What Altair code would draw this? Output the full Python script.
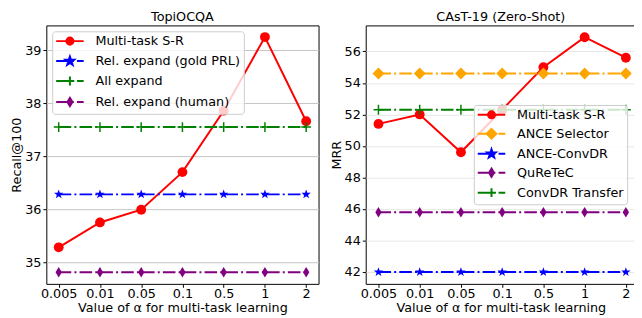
import math
import altair as alt
import pandas as pd

# ---------------- data ----------------
alphas = ["0.005", "0.01", "0.05", "0.1", "0.5", "1", "2"]

topi_names = ["Multi-task S-R", "Rel. expand (gold PRL)", "All expand", "Rel. expand (human)"]
topi_multitask = [35.28, 35.75, 35.99, 36.70, 37.86, 39.25, 37.66]
topi_gold_prl = [36.28, 36.28, 36.28, 36.28, 36.28, 36.28, 36.28]
topi_all_expand = [37.55, 37.55, 37.55, 37.55, 37.55, 37.55, 37.55]
topi_human = [34.81, 34.81, 34.81, 34.81, 34.81, 34.81, 34.81]

cast_names = ["Multi-task S-R", "ANCE Selector", "ANCE-ConvDR", "QuReTeC", "ConvDR Transfer"]
cast_multitask = [51.4, 52.0, 49.6, 52.3, 55.0, 56.9, 55.6]
cast_ance_selector = [54.6, 54.6, 54.6, 54.6, 54.6, 54.6, 54.6]
cast_ance_convdr = [42.0, 42.0, 42.0, 42.0, 42.0, 42.0, 42.0]
cast_quretec = [45.8, 45.8, 45.8, 45.8, 45.8, 45.8, 45.8]
cast_convdr_transfer = [52.3, 52.3, 52.3, 52.3, 52.3, 52.3, 52.3]

topi_ticks = [35, 36, 37, 38, 39]
cast_ticks = [42, 44, 46, 48, 50, 52, 54, 56]

# ---------------- styles ----------------
FONT = "DejaVu Sans"
RED, BLUE, GREEN, PURPLE, ORANGE = "#ff0000", "#0000ff", "#008000", "#800080", "#ffa500"
DASHDOT = [12.8, 3.2, 2, 3.2]


def fmt(v):
    return f"{v:.3f}".rstrip("0").rstrip(".")


def star_pts(r_out, r_in):
    pts = []
    for k in range(10):
        a = math.radians(-90 + 36 * k)
        r = r_out if k % 2 == 0 else r_in
        pts.append((r * math.cos(a), r * math.sin(a)))
    return pts


def poly(pts, s=1.0):
    return "M" + "L".join(f"{fmt(x * s)},{fmt(y * s)}" for x, y in pts) + "Z"


def marker_path(kind, s=1.0):
    if kind == "circle":
        r = s
        return f"M{fmt(r)},0A{fmt(r)},{fmt(r)} 0 1,1 {fmt(-r)},0A{fmt(r)},{fmt(r)} 0 1,1 {fmt(r)},0Z"
    if kind == "star":
        return poly(star_pts(1.0, 0.4), s)
    if kind == "plus":
        return f"M{fmt(-s)},0L{fmt(s)},0M0,{fmt(-s)}L0,{fmt(s)}"
    if kind == "diamond":
        return poly([(0, -1), (1, 0), (0, 1), (-1, 0)], s)
    if kind == "thin_diamond":
        return poly([(0, -1), (0.6, 0), (0, 1), (-0.6, 0)], s)
    raise ValueError(kind)


PLOT_MARK = {
    "circle": ("circle", 100, True),
    "star": (marker_path("star"), 100, True),
    "plus": (marker_path("plus"), 100, False),
    "diamond": (marker_path("diamond"), 144, True),
    "thin_diamond": (marker_path("thin_diamond"), 115, True),
}

U = 6.0
LEG_MARK_PX = {"circle": 3.6, "star": 4.6, "plus": 4.5, "diamond": 5.0, "thin_diamond": 4.2}


def glyph(kind, dashed):
    if dashed:
        segs = [(-14, -1.2), (2, 4), (7.2, 14)]
    else:
        segs = [(-14, 14)]
    line = "".join(f"M{fmt(a / U)},0L{fmt(b / U)},0" for a, b in segs)
    return line + marker_path(kind, LEG_MARK_PX[kind] / U)


def panel(title, names, series, colors, markers, dashed, ydomain, yticks, ytitle,
          grid_color, width, pad, align, lx, ly, row_pad):
    rows = []
    for n, vals in zip(names, series):
        for a, v in zip(alphas, vals):
            rows.append({"series": n, "alpha": a, "value": v})
    df = pd.DataFrame(rows)
    base = alt.Chart(df)
    x = alt.X("alpha:N", sort=alphas,
              scale=alt.Scale(type="point", padding=pad, align=align),
              axis=alt.Axis(title="Value of α for multi-task learning", labelAngle=0,
                            gridColor=grid_color, labelPadding=0, titlePadding=2))
    y = alt.Y("value:Q", scale=alt.Scale(domain=ydomain, nice=False, zero=False),
              axis=alt.Axis(values=yticks, title=ytitle, gridColor=grid_color,
                            labelPadding=2, titlePadding=1))
    layers = []
    for n, c, m, d in zip(names, colors, markers, dashed):
        sub = base.transform_filter(alt.datum.series == n)
        if d:
            ln = sub.mark_line(color=c, strokeWidth=2, strokeDash=DASHDOT)
        else:
            ln = sub.mark_line(color=c, strokeWidth=2)
        layers.append(ln.encode(x=x, y=y))
        shape, size, filled = PLOT_MARK[m]
        if filled:
            pt = sub.mark_point(shape=shape, size=size, filled=True, color=c, opacity=1,
                                strokeWidth=0)
        else:
            pt = sub.mark_point(shape=shape, size=size, filled=False, color=c, opacity=1,
                                strokeWidth=1.5)
        layers.append(pt.encode(x=x, y=y))

    glyphs = [glyph(m, d) for m, d in zip(markers, dashed)]
    leg = alt.Legend(title=None, orient="none", legendX=lx, legendY=ly, padding=3,
                     rowPadding=row_pad, symbolSize=144, symbolStrokeWidth=2,
                     symbolOffset=8, labelOffset=19, symbolOpacity=1,
                     strokeColor="#cccccc", fillColor="rgba(255,255,255,0.8)",
                     cornerRadius=3, labelFont=FONT, labelFontSize=13, labelColor="black",
                     labelLimit=300)
    legend_layer = base.transform_filter("false").mark_point(
        filled=True, opacity=1, size=144, strokeWidth=2
    ).encode(
        x=x, y=y,
        color=alt.Color("series:N", scale=alt.Scale(domain=names, range=colors), legend=leg),
        stroke=alt.Stroke("series:N", scale=alt.Scale(domain=names, range=colors), legend=leg),
        shape=alt.Shape("series:N", scale=alt.Scale(domain=names, range=glyphs), legend=leg),
    )
    layers.append(legend_layer)
    return alt.layer(*layers).properties(
        width=width, height=263,
        title=alt.TitleParams(title, anchor="middle", frame="group"),
    )


left = panel(
    "TopiOCQA", topi_names,
    [topi_multitask, topi_gold_prl, topi_all_expand, topi_human],
    [RED, BLUE, GREEN, PURPLE],
    ["circle", "star", "plus", "thin_diamond"],
    [False, True, True, True],
    [34.59, 39.47], topi_ticks, "Recall@100", "#c4c4c4",
    277, 0.3, 0.5, 6, 6, 3.3,
)
right = panel(
    "CAsT-19 (Zero-Shot)", cast_names,
    [cast_multitask, cast_ance_selector, cast_ance_convdr, cast_quretec, cast_convdr_transfer],
    [RED, ORANGE, BLUE, PURPLE, GREEN],
    ["circle", "diamond", "star", "thin_diamond", "plus"],
    [False, True, True, True, True],
    [41.25, 57.65], cast_ticks, "MRR", "#e6e6e6",
    275, 0.277, 0.558, 110, 81, 2.3,
)

chart = alt.hconcat(left, right, spacing=10).resolve_scale(
    color="independent", stroke="independent", shape="independent"
).resolve_legend(
    color="independent", stroke="independent", shape="independent"
).properties(
    padding={"left": 2, "top": -1, "right": -3, "bottom": 0}
).configure(font=FONT).configure_view(
    stroke="black", strokeWidth=1
).configure_axis(
    labelFont=FONT, labelFontSize=13, labelColor="black",
    titleFont=FONT, titleFontSize=13, titleFontWeight="normal", titleColor="black",
    tickColor="black", tickSize=3.5, tickWidth=1, domain=False, gridWidth=1,
).configure_title(
    font=FONT, fontSize=13, fontWeight="normal", color="black", offset=2
)

chart.save("out.html", embed_options={"renderer": "svg", "actions": False})
